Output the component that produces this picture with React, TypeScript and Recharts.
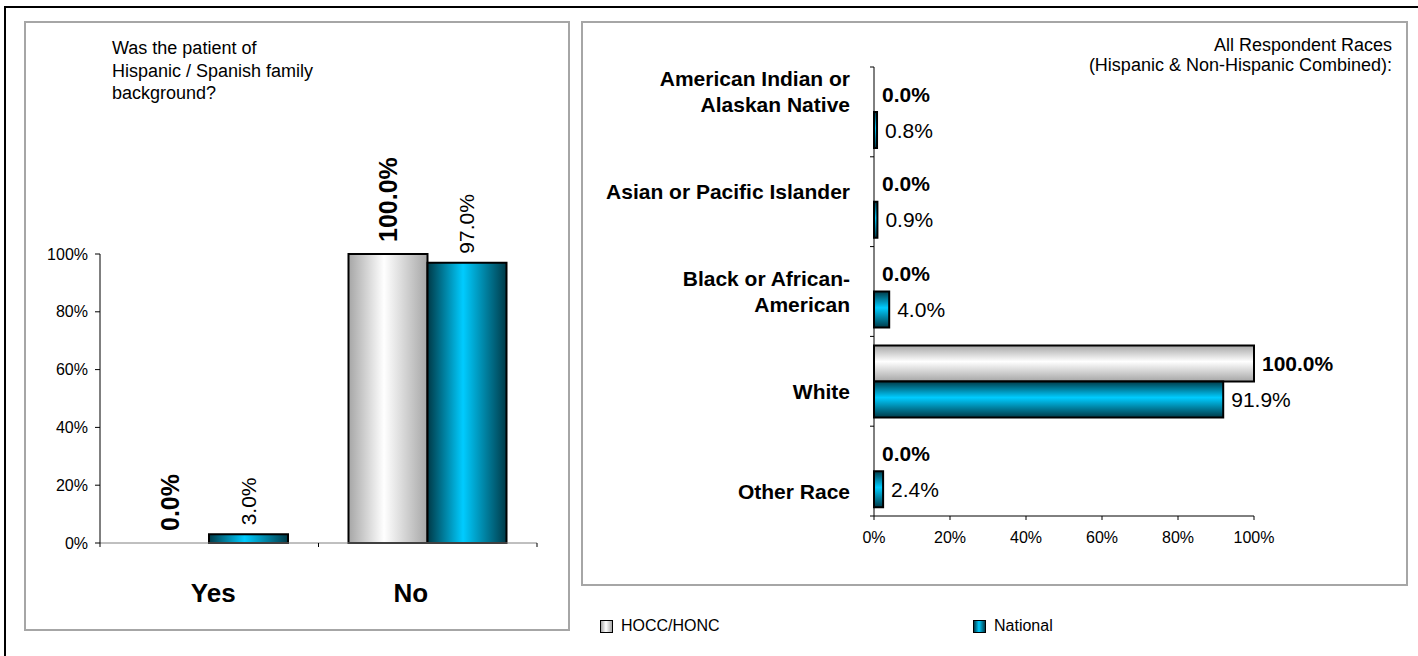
import React from 'react';
import { BarChart, Bar, XAxis, YAxis, LabelList, Rectangle } from 'recharts';

const seriesNames = ['HOCC/HONC', 'National'];

const hispanicCategories = ['Yes', 'No'];
const hispanicHocc = [0.0, 100.0];
const hispanicNational = [3.0, 97.0];

const raceCategories = [
  'American Indian or\nAlaskan Native',
  'Asian or Pacific Islander',
  'Black or African-\nAmerican',
  'White',
  'Other Race',
];
const raceHocc = [0.0, 0.0, 0.0, 100.0, 0.0];
const raceNational = [0.8, 0.9, 4.0, 91.9, 2.4];

const percentTicks = [0, 20, 40, 60, 80, 100];

const FONT = '"Liberation Sans", Arial, Helvetica, sans-serif';

const hispanicData = hispanicCategories.map((name, i) => ({
  name,
  hocc: hispanicHocc[i],
  national: hispanicNational[i],
}));

const raceData = raceCategories.map((name, i) => ({
  name,
  hocc: raceHocc[i],
  national: raceNational[i],
}));

// left chart geometry
const LW = 568;
const LH = 640;
const L_MARGIN = { top: 254, right: 31, bottom: 27, left: 40 };
const L_YAXIS_W = 60;
const L_BAND = (LW - L_MARGIN.left - L_MARGIN.right - L_YAXIS_W) / hispanicCategories.length;

// right chart geometry
const RW = 850;
const RH = 656;
const R_MARGIN = { top: 67, right: 164, bottom: 110, left: 16 };
const R_XAXIS_H = 30;
const R_BAND = (RH - R_MARGIN.top - R_MARGIN.bottom - R_XAXIS_H) / raceCategories.length;

const pct = (v: any) => `${Number(v).toFixed(1)}%`;

// zero bars get a 1px stub so their labels are still placed, but the stub is not drawn
const zeroStub = (v: any) => (Number(v) === 0 ? 1 : 0);
const hideZero = (key: string) => (p: any) =>
  p.payload && Number(p.payload[key]) === 0 ? <g /> : <Rectangle {...p} />;

const verticalLabel = (bold: boolean, size: number, gap: number) => (props: any) => {
  const { x, y, width, height, value } = props;
  const cx = Number(x) + Number(width) / 2;
  const top = Number(value) === 0 ? Number(y) + Number(height) : Number(y);
  const ty = top - gap;
  return (
    <text
      x={cx}
      y={ty}
      transform={`rotate(-90 ${cx} ${ty})`}
      textAnchor="start"
      dominantBaseline="central"
      fontFamily={FONT}
      fontSize={size}
      fontWeight={bold ? 'bold' : 'normal'}
      fill="#000"
    >
      {pct(value)}
    </text>
  );
};

const sideLabel = (bold: boolean) => (props: any) => {
  const { x, y, width, height, value } = props;
  const w = Number(value) === 0 ? 0 : Number(width);
  return (
    <text
      x={Number(x) + w + 8}
      y={Number(y) + Number(height) / 2}
      dominantBaseline="central"
      fontFamily={FONT}
      fontSize={21}
      fontWeight={bold ? 'bold' : 'normal'}
      fill="#000"
    >
      {pct(value)}
    </text>
  );
};

const HispanicTick = (props: any) => {
  const { x, y, payload, index } = props;
  const left = x - L_BAND / 2;
  const shift = index === 0 ? 4 : -17;
  return (
    <g>
      <line x1={left} x2={left} y1={y} y2={y + 4} stroke="#000" />
      {index === hispanicCategories.length - 1 && (
        <line x1={x + L_BAND / 2} x2={x + L_BAND / 2} y1={y} y2={y + 4} stroke="#000" />
      )}
      <text x={x + shift} y={y + 59} textAnchor="middle" fontFamily={FONT} fontSize={26} fontWeight="bold" fill="#000">
        {payload.value}
      </text>
    </g>
  );
};

const RaceTick = (props: any) => {
  const { x, y, payload, index } = props;
  const top = y - R_BAND / 2;
  const lines = String(payload.value).split('\n');
  const lineH = 26;
  const cy = y + (index - 2) * 10;
  return (
    <g>
      <line x1={x - 4} x2={x} y1={top} y2={top} stroke="#000" />
      {index === raceCategories.length - 1 && (
        <line x1={x - 4} x2={x} y1={y + R_BAND / 2} y2={y + R_BAND / 2} stroke="#000" />
      )}
      <text textAnchor="end" fontFamily={FONT} fontSize={21} fontWeight="bold" fill="#000">
        {lines.map((ln, i) => (
          <tspan key={i} x={x - 24} y={cy + (i - (lines.length - 1) / 2) * lineH} dominantBaseline="central">
            {ln}
          </tspan>
        ))}
      </text>
    </g>
  );
};

const panel = (left: number, top: number, width: number, height: number): React.CSSProperties => ({
  position: 'absolute',
  left,
  top,
  width,
  height,
  boxSizing: 'border-box',
  border: '2px solid #a6a6a6',
  background: '#fff',
});

const hoccCss = 'linear-gradient(to right, #a6a6a6, #ffffff 45%, #a6a6a6)';
const natCss = 'linear-gradient(to right, #003a48, #00ccff 45%, #003a48)';

export default function App() {
  return (
    <div
      style={{
        position: 'absolute',
        left: 0,
        top: 0,
        width: 1418,
        height: 656,
        overflow: 'hidden',
        background: '#fff',
        fontFamily: FONT,
      }}
    >
      <div
        style={{
          position: 'absolute',
          left: 4,
          top: 6,
          width: 1460,
          height: 720,
          boxSizing: 'border-box',
          border: '2px solid #000',
        }}
      />
      <div style={panel(24, 21, 546, 610)} />
      <div style={panel(581, 21, 827, 565)} />

      <div
        style={{
          position: 'absolute',
          left: 112,
          top: 37,
          fontSize: 18,
          lineHeight: '22.5px',
          color: '#000',
        }}
      >
        Was the patient of
        <br />
        Hispanic / Spanish family
        <br />
        background?
      </div>

      <div
        style={{
          position: 'absolute',
          right: 1418 - 1392,
          top: 35,
          fontSize: 18,
          lineHeight: '20px',
          textAlign: 'right',
          color: '#000',
          whiteSpace: 'nowrap',
        }}
      >
        All Respondent Races
        <br />
        (Hispanic &amp; Non-Hispanic Combined):
      </div>

      <div style={{ position: 'absolute', left: 0, top: 0 }}>
        <BarChart width={LW} height={LH} data={hispanicData} margin={L_MARGIN} barSize={79} barGap={0}>
          <defs>
            <linearGradient id="hoccV" x1="0" y1="0" x2="1" y2="0">
              <stop offset="0" stopColor="#a6a6a6" />
              <stop offset="0.45" stopColor="#ffffff" />
              <stop offset="1" stopColor="#a6a6a6" />
            </linearGradient>
            <linearGradient id="natV" x1="0" y1="0" x2="1" y2="0">
              <stop offset="0" stopColor="#003a48" />
              <stop offset="0.45" stopColor="#00ccff" />
              <stop offset="1" stopColor="#003a48" />
            </linearGradient>
          </defs>
          <XAxis
            dataKey="name"
            height={70}
            interval={0}
            tickLine={false}
            tickSize={0}
            tickMargin={0}
            axisLine={{ stroke: '#808080' }}
            tick={(p: any) => <HispanicTick {...p} />}
          />
          <YAxis
            width={L_YAXIS_W}
            domain={[0, 100]}
            ticks={percentTicks}
            interval={0}
            tickFormatter={(v: number) => `${v}%`}
            tickSize={5}
            tickMargin={7}
            axisLine={{ stroke: '#000' }}
            tickLine={{ stroke: '#000' }}
            tick={{ fontSize: 16, fill: '#000', fontFamily: FONT }}
          />
          <Bar
            dataKey="hocc"
            name={seriesNames[0]}
            fill="url(#hoccV)"
            stroke="#000"
            strokeWidth={2}
            minPointSize={zeroStub}
            shape={hideZero('hocc')}
            isAnimationActive={false}
          >
            <LabelList dataKey="hocc" content={verticalLabel(true, 25, 12)} />
          </Bar>
          <Bar
            dataKey="national"
            name={seriesNames[1]}
            fill="url(#natV)"
            stroke="#000"
            strokeWidth={2}
            isAnimationActive={false}
          >
            <LabelList dataKey="national" content={verticalLabel(false, 21, 9)} />
          </Bar>
        </BarChart>
      </div>

      <div style={{ position: 'absolute', left: 568, top: 0 }}>
        <BarChart
          width={RW}
          height={RH}
          data={raceData}
          layout="vertical"
          margin={R_MARGIN}
          barSize={36}
          barGap={0}
        >
          <defs>
            <linearGradient id="hoccH" x1="0" y1="0" x2="0" y2="1">
              <stop offset="0" stopColor="#a6a6a6" />
              <stop offset="0.45" stopColor="#ffffff" />
              <stop offset="1" stopColor="#a6a6a6" />
            </linearGradient>
            <linearGradient id="natH" x1="0" y1="0" x2="0" y2="1">
              <stop offset="0" stopColor="#003a48" />
              <stop offset="0.45" stopColor="#00ccff" />
              <stop offset="1" stopColor="#003a48" />
            </linearGradient>
          </defs>
          <XAxis
            type="number"
            domain={[0, 100]}
            ticks={percentTicks}
            interval={0}
            height={R_XAXIS_H}
            tickFormatter={(v: number) => `${v}%`}
            tickSize={4}
            tickMargin={12}
            axisLine={{ stroke: '#000' }}
            tickLine={{ stroke: '#000' }}
            tick={{ fontSize: 16, fill: '#000', fontFamily: FONT }}
          />
          <YAxis
            type="category"
            dataKey="name"
            width={290}
            interval={0}
            tickLine={false}
            tickSize={0}
            tickMargin={0}
            axisLine={{ stroke: '#000' }}
            tick={(p: any) => <RaceTick {...p} />}
          />
          <Bar
            dataKey="hocc"
            name={seriesNames[0]}
            fill="url(#hoccH)"
            stroke="#000"
            strokeWidth={2}
            minPointSize={zeroStub}
            shape={hideZero('hocc')}
            isAnimationActive={false}
          >
            <LabelList dataKey="hocc" content={sideLabel(true)} />
          </Bar>
          <Bar
            dataKey="national"
            name={seriesNames[1]}
            fill="url(#natH)"
            stroke="#000"
            strokeWidth={2}
            isAnimationActive={false}
          >
            <LabelList dataKey="national" content={sideLabel(false)} />
          </Bar>
        </BarChart>
      </div>

      {seriesNames.map((s, i) => (
        <div key={s} style={{ position: 'absolute', left: i === 0 ? 600 : 973, top: 617, display: 'flex', alignItems: 'center' }}>
          <div
            style={{
              width: 13,
              height: 13,
              boxSizing: 'border-box',
              border: '1.5px solid #000',
              background: i === 0 ? hoccCss : natCss,
              marginRight: 8,
            }}
          />
          <span style={{ fontSize: 16, color: '#000' }}>{s}</span>
        </div>
      ))}
    </div>
  );
}
